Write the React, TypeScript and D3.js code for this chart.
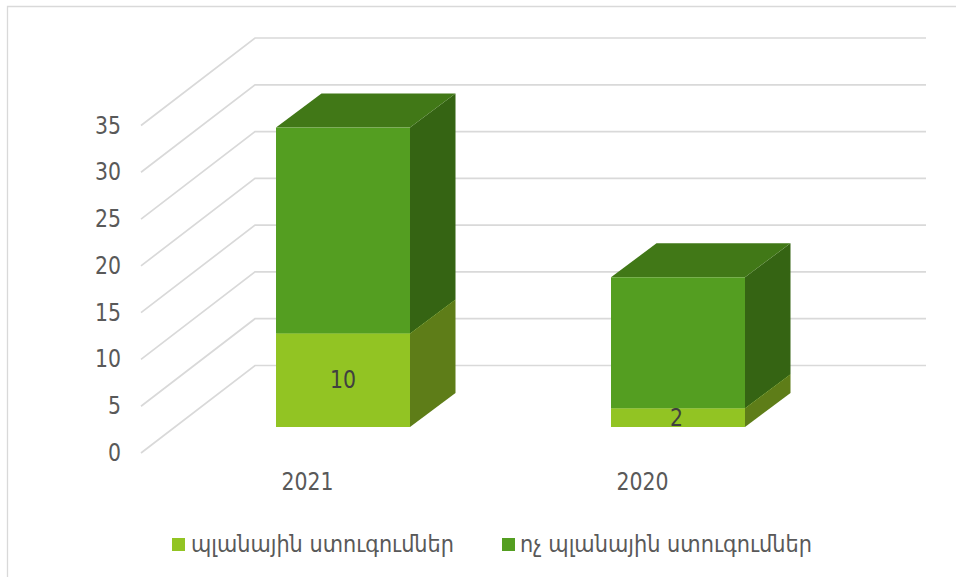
import React from "react";
import * as d3 from "d3";

const categories = ["2021", "2020"];
const planned = [10, 2];
const unplanned = [22, 14];
const yTicks = [0, 5, 10, 15, 20, 25, 30, 35];
const seriesNames = ["պլանային ստուգումներ", "ոչ պլանային ստուգումներ"];
const labelColor = "#595959";
const grid = "#d9d9d9";
const FONT = "'DejaVu Sans Condensed','DejaVu Sans',sans-serif";

const x = d3.scaleBand<string>().domain(categories).range([139.5, 809.5]);
const h = d3.scaleLinear().domain([0, 35]).range([0, 327.5]);
const gy0 = 453, barBase = 427, barW = 134, dx = 45.5, dy = 34;
const gridDx = 114, gridDy = 87.5;

const poly = (pts: number[][]) => d3.line()(pts as [number, number][]) + "Z";

function Block({ cx, v0, v1, front, top, side }: any) {
  const l = cx + 36 - 67, r = l + barW;
  const y0 = barBase - h(v0), y1 = barBase - h(v1);
  return (
    <g>
      <path d={poly([[r, y0], [r + dx, y0 - dy], [r + dx, y1 - dy], [r, y1]])} fill={side} />
      <path d={poly([[l, y1], [r, y1], [r + dx, y1 - dy], [l + dx, y1 - dy]])} fill={top} />
      <rect x={l} y={y1} width={barW} height={y0 - y1} fill={front} />
    </g>
  );
}

export default function App() {
  return (
    <svg width={956} height={577} style={{ position: "absolute", left: 0, top: 0, background: "#fff" }} fontFamily={FONT}>
      <path d="M7.5 577V6.5H956" fill="none" stroke={grid} strokeWidth={1.3} />
      {yTicks.map((t) => {
        const y = gy0 - h(t);
        return (
          <g key={t}>
            <path
              d={d3.line()([[141, y], [141 + gridDx, y - gridDy], [926, y - gridDy]])!}
              fill="none"
              stroke={grid}
              strokeWidth={1.7}
            />
            <text x={121} y={y + 8} textAnchor="end" fontSize={24} fill={labelColor} textLength={String(t).length * 13} lengthAdjust="spacingAndGlyphs">
              {t}
            </text>
          </g>
        );
      })}
      {categories.map((c, i) => {
        const cx = x(c)! + x.bandwidth() / 2;
        return (
          <g key={c}>
            <Block cx={cx} v0={0} v1={planned[i]} front="#92c423" top="#92c423" side="#5e7d18" />
            <Block cx={cx} v0={planned[i]} v1={planned[i] + unplanned[i]} front="#549e21" top="#417817" side="#356413" />
            <text x={cx + 36 - (i === 0 ? 0 : 1.5)} y={barBase - h(planned[i]) / 2 + 8} textAnchor="middle" fontSize={24} fill="#404040" textLength={String(planned[i]).length * 13} lengthAdjust="spacingAndGlyphs">
              {planned[i]}
            </text>
            <text x={cx + 0.5} y={490} textAnchor="middle" fontSize={24} fill={labelColor} textLength={52} lengthAdjust="spacingAndGlyphs">
              {c}
            </text>
          </g>
        );
      })}
      <rect x={172} y={538} width={13} height={13} fill="#92c423" />
      <text x={191} y={552} fontSize={23} fill={labelColor} textLength={263} lengthAdjust="spacingAndGlyphs">{seriesNames[0]}</text>
      <rect x={502} y={538} width={13} height={13} fill="#549e21" />
      <text x={520} y={552} fontSize={23} fill={labelColor} textLength={292} lengthAdjust="spacingAndGlyphs">{seriesNames[1]}</text>
    </svg>
  );
}
